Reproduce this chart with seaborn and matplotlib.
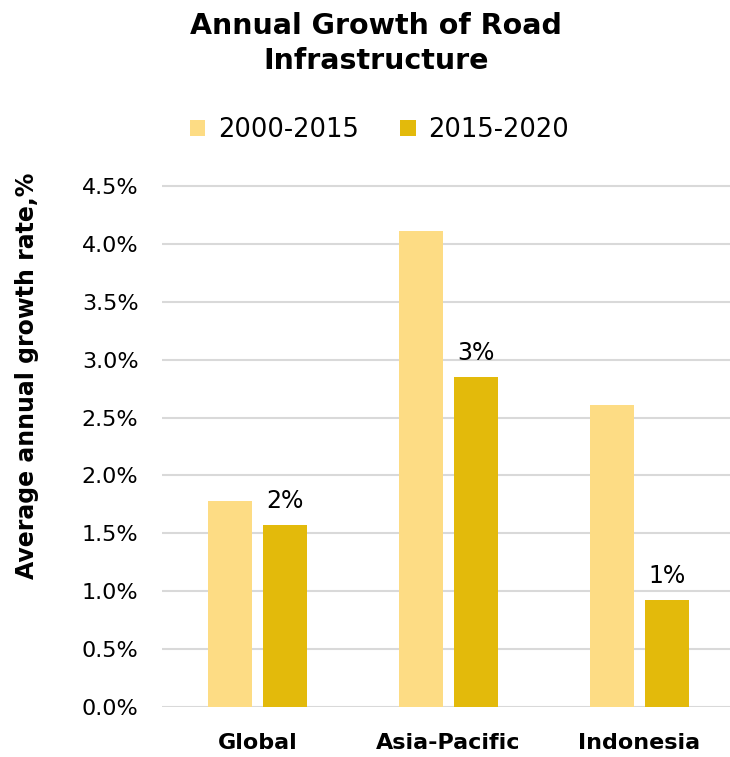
import matplotlib
matplotlib.use("Agg")
import matplotlib.pyplot as plt
import seaborn as sns
import pandas as pd
from matplotlib.patches import Patch

# Road infrastructure growth, average annual rate in percent
regions = ["Global", "Asia-Pacific", "Indonesia"]
periods = ["2000-2015", "2015-2020"]
growth_2000_2015 = [1.78, 4.11, 2.61]
growth_2015_2020 = [1.57, 2.85, 0.92]
value_labels = ["2%", "3%", "1%"]
y_ticks = [0.0, 0.5, 1.0, 1.5, 2.0, 2.5, 3.0, 3.5, 4.0, 4.5]

colors = {"2000-2015": "#FDDC84", "2015-2020": "#E3BA0B"}

df = pd.DataFrame({
    "region": regions * 2,
    "period": [periods[0]] * 3 + [periods[1]] * 3,
    "growth": growth_2000_2015 + growth_2015_2020,
})

sns.set_theme(style="white")
plt.rcParams["font.family"] = ["DejaVu Sans"]
plt.rcParams["text.color"] = "black"

W, H = 730, 757
fig = plt.figure(figsize=(W / 100, H / 100), dpi=100)
left_px, right_px, bottom_px, top_px = 162, 730, 707, 184
ax = fig.add_axes([left_px / W, (H - bottom_px) / H,
                   (right_px - left_px) / W, (bottom_px - top_px) / H])

sns.barplot(data=df, x="region", y="growth", hue="period", order=regions,
            hue_order=periods, palette=colors, width=0.576, gap=0.218,
            saturation=1, linewidth=0, ax=ax, legend=False)

ax.set_xlim(-0.5, -0.5 + (right_px - left_px) / 191)
ax.set_ylim(0, 4.5 * (bottom_px - top_px) / (bottom_px - 186))
ax.set_yticks(y_ticks)
ax.set_yticklabels([f"{t:.1f}%" for t in y_ticks], fontsize=16, color="black")
ax.set_xticks(range(len(regions)))
ax.set_xticklabels(regions, fontsize=16, fontweight="bold", color="black")
ax.tick_params(axis="y", length=0, pad=17)
ax.tick_params(axis="x", length=0, pad=19)

ax.grid(axis="y", color="#D9D9D9", linewidth=1.5)
ax.set_axisbelow(True)
for s in ax.spines.values():
    s.set_visible(False)

ax.set_xlabel("")
ax.set_ylabel("")
fig.text(27 / W, 1 - 376 / H, "Average annual growth rate,%", rotation=90,
         ha="center", va="center", fontsize=17, fontweight="bold",
         color="black")

# value labels above the 2015-2020 bars
dark_bars = ax.containers[1]
for bar, txt in zip(dark_bars, value_labels):
    ax.annotate(txt, (bar.get_x() + bar.get_width() / 2, bar.get_height()),
                xytext=(0, 9), textcoords="offset points", ha="center",
                va="bottom", fontsize=17, color="black")

fig.text(0.515, 0.984, "Annual Growth of Road\nInfrastructure", ha="center",
         va="top", fontsize=20.5, fontweight="bold", linespacing=1.3,
         color="black")

handles = [Patch(facecolor=colors[p], edgecolor="none") for p in periods]
fig.legend(handles, periods, loc="center", bbox_to_anchor=(0.52, 0.828),
           ncol=2, frameon=False, fontsize=18.5, handlelength=0.6,
           handleheight=0.6, handletextpad=0.5, columnspacing=1.6)

fig.savefig("out.png", dpi=100)
